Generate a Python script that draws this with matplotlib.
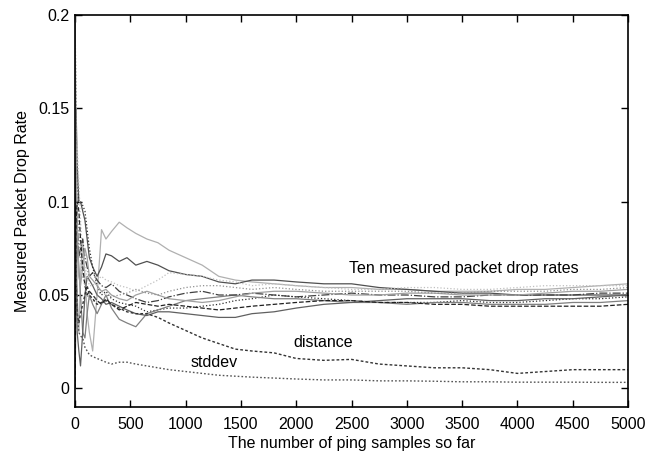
import matplotlib
matplotlib.use("Agg")
from matplotlib import pyplot as plt

plt.rcParams['font.family'] = ['Liberation Sans', 'DejaVu Sans']

# sample positions (number of pings)
xs = [1, 10, 20, 35, 50, 70, 90, 110, 130, 160, 200, 240, 280, 330, 400, 470, 550, 650, 750, 850,
      1000, 1150, 1300, 1450, 1600, 1800, 2000, 2250, 2500, 2750, 3000, 3250, 3500, 3750, 4000,
      4250, 4500, 4750, 5000]

rate1 = [0.2, 0.1, 0.05, 0.03, 0.06, 0.08, 0.06, 0.04, 0.03, 0.02, 0.05, 0.085, 0.08, 0.084, 0.089,
         0.086, 0.083, 0.08, 0.078, 0.074, 0.07, 0.066, 0.06, 0.058, 0.057, 0.056, 0.055, 0.054, 0.054,
         0.053, 0.053, 0.052, 0.052, 0.052, 0.053, 0.053, 0.054, 0.055, 0.056]
rate2 = [0.0, 0.15, 0.12, 0.1, 0.1, 0.095, 0.09, 0.08, 0.07, 0.065, 0.06, 0.065, 0.072, 0.071, 0.068,
         0.07, 0.066, 0.068, 0.066, 0.063, 0.061, 0.06, 0.057, 0.056, 0.058, 0.058, 0.057, 0.056, 0.056,
         0.054, 0.053, 0.052, 0.051, 0.051, 0.05, 0.05, 0.05, 0.05, 0.05]
rate3 = [0.2, 0.13, 0.11, 0.1, 0.1, 0.098, 0.095, 0.085, 0.075, 0.065, 0.055, 0.05, 0.052, 0.048, 0.046,
         0.045, 0.044, 0.041, 0.042, 0.043, 0.043, 0.044, 0.045, 0.047, 0.048, 0.05, 0.049, 0.048, 0.047,
         0.046, 0.046, 0.046, 0.047, 0.046, 0.046, 0.047, 0.048, 0.048, 0.049]
rate4 = [0.0, 0.05, 0.08, 0.065, 0.05, 0.03, 0.027, 0.04, 0.05, 0.045, 0.04, 0.045, 0.05, 0.043, 0.037,
         0.035, 0.033, 0.04, 0.042, 0.044, 0.047, 0.048, 0.049, 0.05, 0.049, 0.048, 0.048, 0.047, 0.046,
         0.046, 0.045, 0.046, 0.046, 0.045, 0.045, 0.045, 0.046, 0.046, 0.047]
rate5 = [0.2, 0.07, 0.03, 0.02, 0.012, 0.03, 0.05, 0.06, 0.058, 0.055, 0.05, 0.048, 0.045, 0.046, 0.044,
         0.042, 0.04, 0.039, 0.041, 0.041, 0.04, 0.039, 0.038, 0.038, 0.04, 0.041, 0.043, 0.045, 0.046,
         0.047, 0.048, 0.048, 0.048, 0.047, 0.047, 0.048, 0.048, 0.049, 0.05]
rate6 = [0.0, 0.1, 0.13, 0.11, 0.09, 0.07, 0.065, 0.06, 0.055, 0.055, 0.058, 0.06, 0.058, 0.057, 0.055,
         0.054, 0.052, 0.055, 0.058, 0.062, 0.061, 0.06, 0.058, 0.057, 0.055, 0.056, 0.055, 0.054, 0.053,
         0.053, 0.054, 0.054, 0.053, 0.053, 0.054, 0.055, 0.055, 0.055, 0.055]
rate7 = [0.1, 0.12, 0.09, 0.07, 0.075, 0.08, 0.07, 0.065, 0.06, 0.062, 0.058, 0.055, 0.054, 0.056, 0.052,
         0.05, 0.048, 0.046, 0.047, 0.049, 0.051, 0.052, 0.05, 0.05, 0.051, 0.05, 0.049, 0.05, 0.051,
         0.05, 0.05, 0.049, 0.049, 0.05, 0.05, 0.05, 0.05, 0.051, 0.051]
rate8 = [0.2, 0.12, 0.09, 0.06, 0.055, 0.065, 0.075, 0.07, 0.06, 0.058, 0.055, 0.052, 0.053, 0.05, 0.048,
         0.047, 0.05, 0.052, 0.05, 0.048, 0.047, 0.046, 0.047, 0.049, 0.051, 0.052, 0.052, 0.051, 0.05,
         0.05, 0.051, 0.051, 0.05, 0.05, 0.05, 0.051, 0.052, 0.052, 0.053]
rate9 = [0.0, 0.09, 0.1, 0.095, 0.08, 0.065, 0.055, 0.05, 0.052, 0.05, 0.047, 0.045, 0.048, 0.045, 0.042,
         0.044, 0.046, 0.045, 0.044, 0.045, 0.044, 0.043, 0.042, 0.043, 0.044, 0.045, 0.046, 0.047, 0.047,
         0.046, 0.046, 0.045, 0.045, 0.044, 0.044, 0.044, 0.044, 0.044, 0.045]
rate10 = [0.2, 0.15, 0.1, 0.085, 0.07, 0.06, 0.055, 0.05, 0.048, 0.046, 0.05, 0.052, 0.05, 0.049, 0.05,
          0.051, 0.053, 0.051, 0.05, 0.052, 0.054, 0.055, 0.055, 0.054, 0.053, 0.054, 0.053, 0.052, 0.052,
          0.052, 0.052, 0.051, 0.051, 0.052, 0.052, 0.052, 0.053, 0.053, 0.054]

distance = [0.1, 0.06, 0.04, 0.035, 0.04, 0.045, 0.05, 0.055, 0.05, 0.048, 0.045, 0.046, 0.047, 0.045,
            0.043, 0.041, 0.04, 0.04, 0.038, 0.035, 0.031, 0.027, 0.024, 0.021, 0.02, 0.019, 0.016,
            0.015, 0.0155, 0.013, 0.012, 0.011, 0.011, 0.01, 0.008, 0.009, 0.01, 0.01, 0.01]
stddev = [0.1, 0.06, 0.04, 0.03, 0.028, 0.027, 0.022, 0.02, 0.018, 0.017, 0.016, 0.015, 0.014, 0.013,
          0.014, 0.014, 0.013, 0.012, 0.011, 0.01, 0.009, 0.008, 0.007, 0.0065, 0.006, 0.0055, 0.005,
          0.0045, 0.0045, 0.004, 0.004, 0.0038, 0.0035, 0.0035, 0.0033, 0.0033, 0.0033, 0.0032, 0.0032]

rates = [rate1, rate2, rate3, rate4, rate5, rate6, rate7, rate8, rate9, rate10]
colors = ['#b0b0b0', '#505050', '#303030', '#808080', '#606060',
          '#c0c0c0', '#404040', '#a0a0a0', '#202020', '#909090']
styles = ['-', '-', ':', '-', '-', ':', '-.', '-', '--', ':']

fig = plt.figure(figsize=(6.6, 4.55), dpi=100)
ax = fig.add_axes([0.1136, 0.1055, 0.838, 0.8615])

for r, c, s in zip(rates, colors, styles):
    ax.plot(xs, r, color=c, linestyle=s, linewidth=0.9)
ax.plot(xs, distance, color='#333333', linestyle=(0, (2, 1.5)), linewidth=1.0)
ax.plot(xs, stddev, color='#555555', linestyle=(0, (1.2, 1.5)), linewidth=1.0)

ax.text(3514, 0.064, 'Ten measured packet drop rates', ha='center', va='center', fontsize=11.5)
ax.text(2245, 0.0247, 'distance', ha='center', va='center', fontsize=11.5)
ax.text(1260, 0.014, 'stddev', ha='center', va='center', fontsize=11.5)

ax.set_xlim(0, 5000)
ax.set_ylim(-0.01, 0.2)
ax.set_xticks(range(0, 5001, 500))
ax.set_yticks([0, 0.05, 0.1, 0.15, 0.2])
ax.set_yticklabels(['0', '0.05', '0.1', '0.15', '0.2'])
for sp in ax.spines.values():
    sp.set_linewidth(1.2)
ax.tick_params(direction='in', top=True, right=True, labelsize=11.5, length=5, width=1.0)
ax.tick_params(axis='x', pad=7)
ax.tick_params(axis='y', pad=4)
ax.set_xlabel('The number of ping samples so far', fontsize=11.5, labelpad=3)
ax.set_ylabel('Measured Packet Drop Rate', fontsize=11.5, labelpad=6)

plt.savefig('out.png')
